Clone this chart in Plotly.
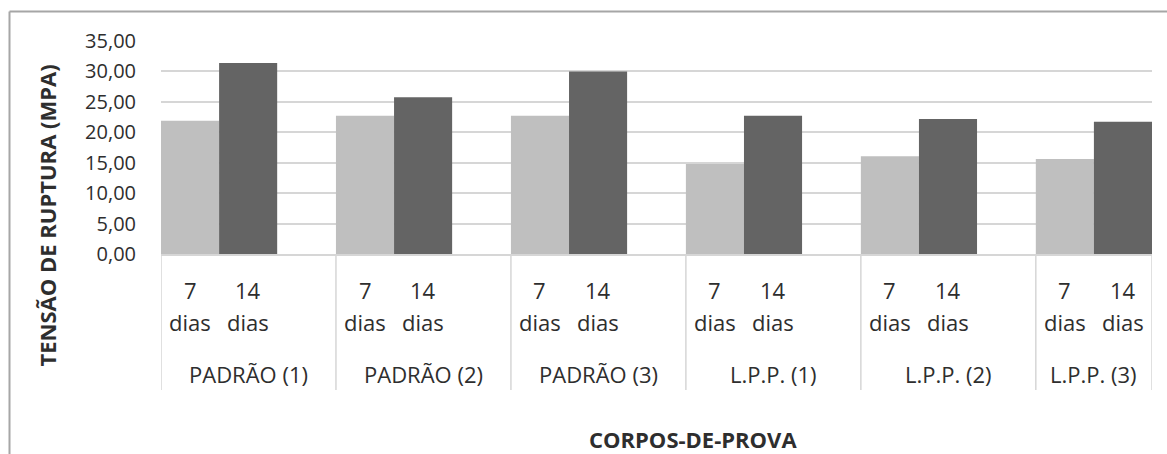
import plotly.graph_objects as go

# Compressive strength per specimen group, at 7 and 14 days (MPa)
groups = ["PADRÃO (1)", "PADRÃO (2)", "PADRÃO (3)", "L.P.P. (1)", "L.P.P. (2)", "L.P.P. (3)"]
ages = ["7 dias", "14 dias"]
age_numbers = ["7", "14"]
strength_7d = [21.9, 22.7, 22.7, 14.8, 16.05, 15.6]
strength_14d = [31.4, 25.75, 30.0, 22.7, 22.2, 21.75]
y_ticks = [0, 5, 10, 15, 20, 25, 30, 35]

W, H = 1167, 454
ML, MR, MT, MB = 161, 15, 41, 200
PW, PH = W - ML - MR, H - MT - MB

BARGAP = 0.336
GROUP_W = 1 - BARGAP           # width of the two-bar cluster, in category units
FONT = "Open Sans"
TEXT = "#2e2e2e"
LINE = "#d6d6d6"


def px_x(px):
    return (px - ML) / PW


def px_y(py):
    return (H - MB - py) / PH


fig = go.Figure()
fig.add_trace(go.Bar(name=ages[0], x=groups, y=strength_7d, marker_color="#bfbfbf",
                     marker_line_width=0))
fig.add_trace(go.Bar(name=ages[1], x=groups, y=strength_14d, marker_color="#646464",
                     marker_line_width=0))

annotations = []
shapes = []
n = len(groups)
x_end = n - 1 + GROUP_W / 2

for g, name in enumerate(groups):
    left = g - GROUP_W / 2
    right = min(g + 1 - GROUP_W / 2, x_end)
    # group separators of the two-level category axis
    shapes.append(dict(type="line", xref="x", yref="paper", x0=left, x1=left,
                       y0=0, y1=px_y(390), line=dict(color=LINE, width=1.5)))
    annotations.append(dict(x=(left + right) / 2, y=px_y(374), xref="x", yref="paper",
                            text=name, showarrow=False, yanchor="middle",
                            font=dict(family=FONT, size=22, color=TEXT)))
    for k, num in enumerate(age_numbers):
        cx = g + (k - 0.5) * GROUP_W / 2
        annotations.append(dict(x=cx, y=px_y(290), xref="x", yref="paper", text=num,
                                showarrow=False, yanchor="middle",
                                font=dict(family=FONT, size=22, color=TEXT)))
        annotations.append(dict(x=cx, y=px_y(322), xref="x", yref="paper", text="dias",
                                showarrow=False, yanchor="middle",
                                font=dict(family=FONT, size=22, color=TEXT)))

shapes.append(dict(type="line", xref="x", yref="paper", x0=x_end, x1=x_end,
                   y0=0, y1=px_y(390), line=dict(color=LINE, width=1.5)))

# chart-area frame (runs past the right and bottom edges)
shapes.append(dict(type="line", xref="paper", yref="paper", x0=px_x(9.5), x1=px_x(1200),
                   y0=px_y(11.5), y1=px_y(11.5), line=dict(color="#a6a6a6", width=2)))
shapes.append(dict(type="line", xref="paper", yref="paper", x0=px_x(9.5), x1=px_x(9.5),
                   y0=px_y(11.5), y1=px_y(480), line=dict(color="#a6a6a6", width=2)))

# axis titles
annotations.append(dict(x=px_x(46), y=px_y(215.5), xref="paper", yref="paper",
                        text="<b>TENSÃO DE RUPTURA (MPA)</b>", textangle=-90,
                        showarrow=False, xanchor="center", yanchor="middle",
                        font=dict(family=FONT, size=22, color=TEXT)))
annotations.append(dict(x=px_x(693), y=px_y(438.5), xref="paper", yref="paper",
                        text="<b>CORPOS-DE-PROVA</b>", showarrow=False,
                        xanchor="center", yanchor="middle",
                        font=dict(family=FONT, size=22, color=TEXT)))

fig.update_layout(
    width=W, height=H, autosize=False,
    margin=dict(l=ML, r=MR, t=MT, b=MB, pad=0),
    paper_bgcolor="white", plot_bgcolor="white",
    barmode="group", bargap=BARGAP, bargroupgap=0,
    showlegend=False,
    separators=",.",
    font=dict(family=FONT, color=TEXT),
    annotations=annotations,
    shapes=shapes,
)
fig.update_xaxes(range=[-GROUP_W / 2, x_end], showticklabels=False, ticks="",
                 showgrid=False, showline=True, linecolor=LINE, linewidth=1.5,
                 zeroline=False)
fig.update_yaxes(range=[0, 35], tickvals=y_ticks, tickformat=".2f",
                 showgrid=True, gridcolor=LINE, gridwidth=2, zeroline=False,
                 showline=False, ticks="", ticklabelstandoff=24,
                 tickfont=dict(family=FONT, size=20, color=TEXT))

fig.write_html("out.html")
